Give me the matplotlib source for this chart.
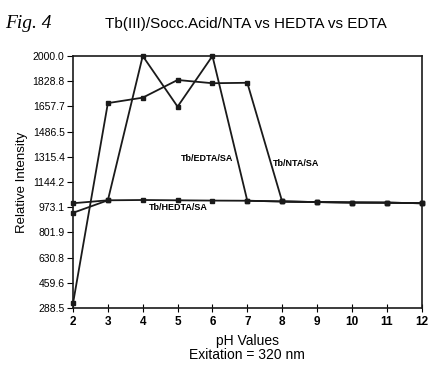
import matplotlib
matplotlib.use("Agg")
import matplotlib.pyplot as plt

# pH values on the x axis
ph = [2, 3, 4, 5, 6, 7, 8, 9, 10, 11, 12]

# relative intensity
nta = [320, 1680, 1717, 1837, 1815, 1818, 1012, 1008, 1005, 1004, 1000]
edta = [935, 1020, 2000, 1656, 2000, 1017, 1012, 1008, 1005, 1004, 1000]
hedta = [1000, 1020, 1022, 1020, 1018, 1017, 1012, 1008, 1005, 1004, 1000]

y_ticks = [288.5, 459.65, 630.8, 801.95, 973.1, 1144.25, 1315.4, 1486.55, 1657.7, 1828.85, 2000.0]
y_tick_labels = ["288.5", "459.6", "630.8", "801.9", "973.1", "1144.2", "1315.4",
                 "1486.5", "1657.7", "1828.8", "2000.0"]

plt.rcParams["font.family"] = ["Liberation Sans", "DejaVu Sans"]

fig = plt.figure(figsize=(4.28, 3.72), dpi=100)
ax = fig.add_axes([0.1706, 0.172, 0.8144, 0.6775])

style = dict(color="#1a1a1a", linewidth=1.3, marker="s", markersize=3.2, clip_on=False)
ax.plot(ph, hedta, **style)
ax.plot(ph, edta, **style)
ax.plot(ph, nta, **style)

ax.set_xlim(2, 12)
ax.set_ylim(288.5, 2000)
ax.set_xticks(ph)
ax.set_yticks(y_ticks)
ax.set_yticklabels(y_tick_labels)
ax.tick_params(axis="y", direction="out", length=4, labelsize=7.5, pad=2)
ax.tick_params(axis="x", direction="inout", length=6, labelsize=8.5, pad=3)
for lbl in ax.get_xticklabels():
    lbl.set_fontweight("bold")
for s in ax.spines.values():
    s.set_linewidth(1.2)
    s.set_color("#1a1a1a")

lab = dict(fontsize=6.5, fontweight="bold", va="center")
ax.text(5.09, 1307, "Tb/EDTA/SA", **lab)
ax.text(7.72, 1273, "Tb/NTA/SA", **lab)
ax.text(4.17, 968, "Tb/HEDTA/SA", **lab)

ax.set_ylabel("Relative Intensity", fontsize=9.5, labelpad=3)
ax.set_xlabel("pH Values\nExitation = 320 nm", fontsize=10, labelpad=4, linespacing=1.0)

fig.text(0.012, 0.925, "Fig. 4", fontsize=14, style="italic", family="Liberation Serif")
fig.text(0.575, 0.925, "Tb(III)/Socc.Acid/NTA vs HEDTA vs EDTA", fontsize=11,
         ha="center")

fig.savefig("out.png", dpi=100)
